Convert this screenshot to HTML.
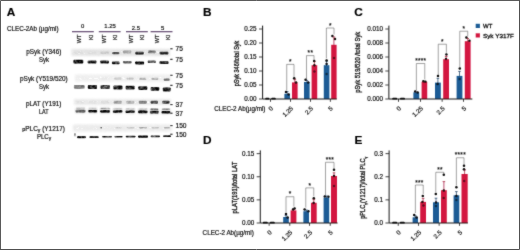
<!DOCTYPE html>
<html lang="en"><head><meta charset="utf-8"><title>Figure</title>
<style>html,body{margin:0;padding:0;background:#fff;}body{width:520px;height:250px;overflow:hidden;}svg{display:block;}text{white-space:pre;stroke:#151515;stroke-width:.2px;}</style></head>
<body>
<svg width="520" height="250" viewBox="0 0 520 250" font-family='"Liberation Sans", sans-serif'>
<defs><filter id="b1" x="-20%" y="-60%" width="140%" height="220%"><feGaussianBlur stdDeviation="0.75 0.55"/></filter><filter id="b2" x="-5%" y="-30%" width="110%" height="160%"><feGaussianBlur stdDeviation="0.8"/></filter><filter id="b3" x="-20%" y="-100%" width="140%" height="300%"><feGaussianBlur stdDeviation="0.55 0.4"/></filter><filter id="mot" color-interpolation-filters="sRGB" x="68" y="44" width="108" height="100" filterUnits="userSpaceOnUse"><feTurbulence type="fractalNoise" baseFrequency="0.32 0.5" numOctaves="2" seed="7"/><feColorMatrix type="matrix" values="0 0 0 0 1 0 0 0 0 1 0 0 0 0 1 0 0 0 1 0" result="n"/><feComposite in="SourceGraphic" in2="n" operator="arithmetic" k1="1.1" k2="0.42" k3="0" k4="0"/></filter><filter id="mot2" color-interpolation-filters="sRGB" x="68" y="44" width="108" height="100" filterUnits="userSpaceOnUse"><feTurbulence type="fractalNoise" baseFrequency="0.4 0.6" numOctaves="2" seed="3"/><feColorMatrix type="matrix" values="0 0 0 0 1 0 0 0 0 1 0 0 0 0 1 0 0 0 1 0" result="n"/><feComposite in="SourceGraphic" in2="n" operator="arithmetic" k1="0.5" k2="0.72" k3="0" k4="0"/></filter><filter id="soft" x="0" y="0" width="520" height="250" filterUnits="userSpaceOnUse"><feConvolveMatrix order="3" kernelMatrix="0.02 0.07 0.02 0.07 0.64 0.07 0.02 0.07 0.02" edgeMode="duplicate" preserveAlpha="false"/></filter></defs>
<rect x="0" y="0" width="520" height="250" fill="#fff"/>
<g filter="url(#soft)">
<text x="6.8" y="16.2" font-size="11.8" font-weight="bold" fill="#000">A</text>
<text x="6.9" y="30.7" font-size="6.4" textLength="51.6" lengthAdjust="spacingAndGlyphs" fill="#1a1a1a">CLEC-2Ab (µg/ml)</text>
<rect x="72" y="31.0" width="21.8" height="1.3" fill="#6e587c"/>
<text x="82.60000000000001" y="28.1" font-size="5.9" text-anchor="middle" fill="#1a1a1a">0</text>
<rect x="98.8" y="31.0" width="21.8" height="1.3" fill="#6e587c"/>
<text x="110.1" y="28.1" font-size="5.9" text-anchor="middle" fill="#1a1a1a">1.25</text>
<rect x="126" y="31.0" width="21.8" height="1.3" fill="#6e587c"/>
<text x="135.9" y="29.5" font-size="5.9" text-anchor="middle" fill="#1a1a1a">2.5</text>
<rect x="150.6" y="31.0" width="21.9" height="1.3" fill="#6e587c"/>
<text x="162.55" y="29.5" font-size="5.9" text-anchor="middle" fill="#1a1a1a">5</text>
<text x="81.5" y="34.6" font-size="5.6" text-anchor="end" transform="rotate(-90 81.5 34.6)" fill="#1a1a1a">WT</text>
<text x="93" y="34.6" font-size="5.6" text-anchor="end" transform="rotate(-90 93 34.6)" fill="#1a1a1a">KI</text>
<text x="106.2" y="34.6" font-size="5.6" text-anchor="end" transform="rotate(-90 106.2 34.6)" fill="#1a1a1a">WT</text>
<text x="117.4" y="34.6" font-size="5.6" text-anchor="end" transform="rotate(-90 117.4 34.6)" fill="#1a1a1a">KI</text>
<text x="132.6" y="34.6" font-size="5.6" text-anchor="end" transform="rotate(-90 132.6 34.6)" fill="#1a1a1a">WT</text>
<text x="143.6" y="34.6" font-size="5.6" text-anchor="end" transform="rotate(-90 143.6 34.6)" fill="#1a1a1a">KI</text>
<text x="158.9" y="34.6" font-size="5.6" text-anchor="end" transform="rotate(-90 158.9 34.6)" fill="#1a1a1a">WT</text>
<text x="169.9" y="34.6" font-size="5.6" text-anchor="end" transform="rotate(-90 169.9 34.6)" fill="#1a1a1a">KI</text>
<text x="26.299999999999997" y="54.0" font-size="6.3" textLength="35" lengthAdjust="spacingAndGlyphs" fill="#1a1a1a">pSyk (Y346)</text>
<text x="39.0" y="61.5" font-size="6.3" textLength="10" lengthAdjust="spacingAndGlyphs" fill="#1a1a1a">Syk</text>
<text x="20.049999999999997" y="81.1" font-size="6.3" textLength="47.7" lengthAdjust="spacingAndGlyphs" fill="#1a1a1a">pSyk (Y519/520)</text>
<text x="39.0" y="88.6" font-size="6.3" textLength="10" lengthAdjust="spacingAndGlyphs" fill="#1a1a1a">Syk</text>
<text x="26.1" y="106.4" font-size="6.3" textLength="35.2" lengthAdjust="spacingAndGlyphs" fill="#1a1a1a">pLAT (Y191)</text>
<text x="39.0" y="114.2" font-size="6.3" textLength="9.6" lengthAdjust="spacingAndGlyphs" fill="#1a1a1a">LAT</text>
<text x="22.3" y="131.2" font-size="6.3" textLength="42.7" lengthAdjust="spacingAndGlyphs" fill="#1a1a1a"><tspan font-size="5.4">p</tspan>PLC<tspan font-size="5" dy="0.9">γ</tspan><tspan dy="-0.9"> (Y1217)</tspan></text>
<text x="36.9" y="139" font-size="6.3" textLength="14.3" lengthAdjust="spacingAndGlyphs" fill="#1a1a1a">PLC<tspan font-size="5" dy="0.9">γ</tspan></text>
<g filter="url(#mot2)">
<rect x="71.5" y="49.0" width="98.5" height="7.0" fill="#e3e3e3" filter="url(#b2)"/>
<rect x="75" y="74.6" width="96" height="7.0" fill="#eeeeee" filter="url(#b2)"/>
<rect x="74" y="99.0" width="97" height="6.0" fill="#e8e8e8" filter="url(#b2)"/>
<rect x="73" y="124.6" width="98.5" height="6.800000000000011" fill="#eaeaea" filter="url(#b2)"/>
</g>
<g filter="url(#mot)">
<rect x="73.60" y="51.50" width="9.50" height="2.50" rx="1" fill="#000" opacity="0.03" filter="url(#b1)"/>
<rect x="87.80" y="51.50" width="8.50" height="2.50" rx="1" fill="#000" opacity="0.03" filter="url(#b1)"/>
<rect x="100.30" y="51.60" width="8.50" height="2.40" rx="1" fill="#000" opacity="0.12" filter="url(#b1)"/>
<rect x="112.10" y="51.90" width="7.30" height="2.30" rx="1" fill="#000" opacity="0.72" filter="url(#b1)"/>
<rect x="123.10" y="50.40" width="8.30" height="3.10" rx="1" fill="#000" opacity="0.3" filter="url(#b1)"/>
<rect x="135.30" y="51.70" width="8.60" height="2.90" rx="1" fill="#000" opacity="0.97" filter="url(#b1)"/>
<rect x="147.90" y="50.40" width="7.80" height="2.90" rx="1" fill="#000" opacity="0.55" filter="url(#b1)"/>
<rect x="159.60" y="51.70" width="8.80" height="2.90" rx="1" fill="#000" opacity="0.98" filter="url(#b1)"/>
<rect x="73.40" y="59.80" width="9.90" height="3.60" rx="1" fill="#000" opacity="0.97" filter="url(#b1)"/>
<rect x="87.60" y="60.60" width="8.90" height="3.00" rx="1" fill="#000" opacity="0.86" filter="url(#b1)"/>
<rect x="100.10" y="60.60" width="8.90" height="3.00" rx="1" fill="#000" opacity="0.86" filter="url(#b1)"/>
<rect x="111.90" y="61.40" width="7.70" height="2.80" rx="1" fill="#000" opacity="0.9" filter="url(#b1)"/>
<rect x="122.90" y="60.90" width="8.70" height="2.50" rx="1" fill="#000" opacity="0.6" filter="url(#b1)"/>
<rect x="135.10" y="61.40" width="9.00" height="3.00" rx="1" fill="#000" opacity="0.92" filter="url(#b1)"/>
<rect x="147.70" y="60.60" width="8.20" height="2.40" rx="1" fill="#000" opacity="0.66" filter="url(#b1)"/>
<rect x="159.40" y="61.20" width="9.20" height="2.80" rx="1" fill="#000" opacity="0.9" filter="url(#b1)"/>
<rect x="101.40" y="77.30" width="7.60" height="2.30" rx="1" fill="#000" opacity="0.03" filter="url(#b1)"/>
<rect x="114.20" y="77.40" width="7.40" height="2.30" rx="1" fill="#000" opacity="0.16" filter="url(#b1)"/>
<rect x="126.50" y="77.40" width="7.30" height="2.30" rx="1" fill="#000" opacity="0.16" filter="url(#b1)"/>
<rect x="139.20" y="77.80" width="7.20" height="2.30" rx="1" fill="#000" opacity="0.26" filter="url(#b1)"/>
<rect x="151.50" y="77.80" width="6.90" height="2.30" rx="1" fill="#000" opacity="0.26" filter="url(#b1)"/>
<rect x="163.70" y="78.50" width="6.10" height="2.30" rx="1" fill="#000" opacity="0.55" filter="url(#b1)"/>
<rect x="73.90" y="84.90" width="10.80" height="3.80" rx="1" fill="#000" opacity="0.5" filter="url(#b1)"/>
<rect x="87.80" y="85.10" width="9.20" height="3.90" rx="1" fill="#000" opacity="0.85" filter="url(#b1)"/>
<rect x="100.50" y="85.10" width="9.40" height="3.90" rx="1" fill="#000" opacity="0.72" filter="url(#b1)"/>
<rect x="113.30" y="85.50" width="9.20" height="3.90" rx="1" fill="#000" opacity="0.88" filter="url(#b1)"/>
<rect x="125.60" y="85.70" width="9.10" height="3.80" rx="1" fill="#000" opacity="0.88" filter="url(#b1)"/>
<rect x="138.30" y="86.30" width="9.00" height="3.80" rx="1" fill="#000" opacity="0.85" filter="url(#b1)"/>
<rect x="150.60" y="86.90" width="8.70" height="3.80" rx="1" fill="#000" opacity="0.88" filter="url(#b1)"/>
<rect x="162.80" y="87.50" width="7.90" height="3.90" rx="1" fill="#000" opacity="0.9" filter="url(#b1)"/>
<rect x="76.20" y="100.80" width="8.60" height="3.00" rx="1" fill="#000" opacity="0.03" filter="url(#b1)"/>
<rect x="89.00" y="100.80" width="7.50" height="3.00" rx="1" fill="#000" opacity="0.03" filter="url(#b1)"/>
<rect x="100.80" y="100.80" width="8.50" height="3.00" rx="1" fill="#000" opacity="0.05" filter="url(#b1)"/>
<rect x="113.60" y="100.80" width="8.20" height="3.00" rx="1" fill="#000" opacity="0.32" filter="url(#b1)"/>
<rect x="126.20" y="100.80" width="8.00" height="3.00" rx="1" fill="#000" opacity="0.26" filter="url(#b1)"/>
<rect x="138.80" y="100.80" width="8.00" height="3.00" rx="1" fill="#000" opacity="0.5" filter="url(#b1)"/>
<rect x="150.60" y="100.80" width="7.40" height="3.00" rx="1" fill="#000" opacity="0.75" filter="url(#b1)"/>
<rect x="162.20" y="100.80" width="7.40" height="3.00" rx="1" fill="#000" opacity="0.8" filter="url(#b1)"/>
<rect x="75.20" y="107.40" width="10.60" height="5.80" rx="1" fill="#000" opacity="0.13" filter="url(#b2)"/>
<rect x="75.50" y="109.80" width="10.00" height="2.60" rx="1" fill="#000" opacity="0.6" filter="url(#b1)"/>
<rect x="75.80" y="107.50" width="9.40" height="1.40" rx="1" fill="#000" opacity="0.18" filter="url(#b1)"/>
<rect x="88.00" y="107.50" width="9.50" height="5.80" rx="1" fill="#000" opacity="0.13" filter="url(#b2)"/>
<rect x="88.30" y="109.90" width="8.90" height="2.60" rx="1" fill="#000" opacity="0.95" filter="url(#b1)"/>
<rect x="88.60" y="107.60" width="8.30" height="1.40" rx="1" fill="#000" opacity="0.1" filter="url(#b1)"/>
<rect x="99.80" y="107.60" width="10.50" height="5.80" rx="1" fill="#000" opacity="0.13" filter="url(#b2)"/>
<rect x="100.10" y="110.00" width="9.90" height="2.60" rx="1" fill="#000" opacity="0.97" filter="url(#b1)"/>
<rect x="100.40" y="107.70" width="9.30" height="1.40" rx="1" fill="#000" opacity="0.3" filter="url(#b1)"/>
<rect x="112.60" y="107.80" width="10.20" height="5.80" rx="1" fill="#000" opacity="0.13" filter="url(#b2)"/>
<rect x="112.90" y="110.20" width="9.60" height="2.60" rx="1" fill="#000" opacity="0.95" filter="url(#b1)"/>
<rect x="113.20" y="107.90" width="9.00" height="1.40" rx="1" fill="#000" opacity="0.12" filter="url(#b1)"/>
<rect x="125.20" y="108.00" width="10.00" height="5.80" rx="1" fill="#000" opacity="0.13" filter="url(#b2)"/>
<rect x="125.50" y="110.40" width="9.40" height="2.60" rx="1" fill="#000" opacity="0.9" filter="url(#b1)"/>
<rect x="125.80" y="108.10" width="8.80" height="1.40" rx="1" fill="#000" opacity="0.1" filter="url(#b1)"/>
<rect x="137.80" y="108.20" width="10.00" height="5.80" rx="1" fill="#000" opacity="0.13" filter="url(#b2)"/>
<rect x="138.10" y="110.60" width="9.40" height="2.60" rx="1" fill="#000" opacity="0.95" filter="url(#b1)"/>
<rect x="138.40" y="108.30" width="8.80" height="1.40" rx="1" fill="#000" opacity="0.12" filter="url(#b1)"/>
<rect x="149.60" y="108.40" width="9.40" height="5.80" rx="1" fill="#000" opacity="0.13" filter="url(#b2)"/>
<rect x="149.90" y="110.80" width="8.80" height="2.60" rx="1" fill="#000" opacity="0.95" filter="url(#b1)"/>
<rect x="150.20" y="108.50" width="8.20" height="1.40" rx="1" fill="#000" opacity="0.5" filter="url(#b1)"/>
<rect x="161.20" y="108.50" width="9.40" height="5.80" rx="1" fill="#000" opacity="0.13" filter="url(#b2)"/>
<rect x="161.50" y="110.90" width="8.80" height="2.60" rx="1" fill="#000" opacity="0.97" filter="url(#b1)"/>
<rect x="161.80" y="108.60" width="8.20" height="1.40" rx="1" fill="#000" opacity="0.35" filter="url(#b1)"/>
<rect x="115.40" y="127.00" width="6.20" height="1.60" rx="1" fill="#000" opacity="0.14" filter="url(#b1)"/>
<rect x="126.60" y="127.00" width="8.00" height="1.60" rx="1" fill="#000" opacity="0.16" filter="url(#b1)"/>
<rect x="139.00" y="127.00" width="8.00" height="1.60" rx="1" fill="#000" opacity="0.3" filter="url(#b1)"/>
<rect x="151.60" y="127.00" width="7.40" height="1.60" rx="1" fill="#000" opacity="0.2" filter="url(#b1)"/>
<rect x="164.00" y="127.00" width="6.00" height="1.60" rx="1" fill="#000" opacity="0.28" filter="url(#b1)"/>
<circle cx="101.2" cy="127.8" r="0.8" fill="#222" filter="url(#b3)"/>
<rect x="77.00" y="136.20" width="9.00" height="2.00" rx="1" fill="#000" opacity="0.95" filter="url(#b3)"/>
<rect x="89.40" y="136.20" width="9.40" height="1.80" rx="1" fill="#000" opacity="0.9" filter="url(#b3)"/>
<rect x="102.00" y="136.00" width="10.00" height="1.60" rx="1" fill="#000" opacity="0.85" filter="url(#b3)"/>
<rect x="114.40" y="136.00" width="8.20" height="1.60" rx="1" fill="#000" opacity="0.9" filter="url(#b3)"/>
<rect x="125.60" y="135.80" width="10.00" height="1.60" rx="1" fill="#000" opacity="0.85" filter="url(#b3)"/>
<rect x="138.00" y="135.40" width="10.00" height="2.40" rx="1" fill="#000" opacity="1" filter="url(#b3)"/>
<rect x="150.60" y="135.40" width="9.40" height="1.80" rx="1" fill="#000" opacity="0.9" filter="url(#b3)"/>
<rect x="163.00" y="135.30" width="8.00" height="1.80" rx="1" fill="#000" opacity="0.85" filter="url(#b3)"/>
<rect x="74.6" y="133" width="0.8" height="3.2" fill="#222" filter="url(#b3)"/>
</g>
<rect x="170.2" y="48.25" width="2.4" height="1.1" fill="#222"/>
<text x="175.5" y="51.15" font-size="6.6" fill="#1a1a1a">75</text>
<rect x="170.2" y="58.75" width="2.4" height="1.1" fill="#222"/>
<text x="175.5" y="61.65" font-size="6.6" fill="#1a1a1a">75</text>
<rect x="170.2" y="74.75" width="2.4" height="1.1" fill="#222"/>
<text x="175.5" y="77.64999999999999" font-size="6.6" fill="#1a1a1a">75</text>
<rect x="170.2" y="84.75" width="2.4" height="1.1" fill="#222"/>
<text x="175.5" y="87.64999999999999" font-size="6.6" fill="#1a1a1a">75</text>
<rect x="170.2" y="104.05" width="2.4" height="1.1" fill="#222"/>
<text x="175.5" y="106.94999999999999" font-size="6.6" fill="#1a1a1a">37</text>
<rect x="170.2" y="112.65" width="2.4" height="1.1" fill="#222"/>
<text x="175.5" y="115.55" font-size="6.6" fill="#1a1a1a">37</text>
<rect x="170.2" y="125.05" width="2.4" height="1.1" fill="#222"/>
<text x="175.5" y="127.94999999999999" font-size="6.6" fill="#1a1a1a">150</text>
<rect x="170.2" y="133.65" width="2.4" height="1.1" fill="#222"/>
<text x="175.5" y="136.54999999999998" font-size="6.6" fill="#1a1a1a">150</text>
<text x="203" y="16.2" font-size="11.8" font-weight="bold" fill="#000">B</text>
<rect x="284.40" y="93.80" width="5.60" height="5.20" fill="#1a5b95"/>
<rect x="292.00" y="82.40" width="5.60" height="16.60" fill="#d3173f"/>
<rect x="304.00" y="82.00" width="5.60" height="17.00" fill="#1a5b95"/>
<rect x="311.60" y="65.20" width="5.60" height="33.80" fill="#d3173f"/>
<rect x="323.80" y="65.20" width="5.60" height="33.80" fill="#1a5b95"/>
<rect x="331.20" y="44.80" width="5.40" height="54.20" fill="#d3173f"/>
<path d="M287.2 91.6V94M285.9 91.6H288.5" stroke="#12385c" stroke-width="0.7" fill="none"/>
<path d="M294.8 79.6V83M293.5 79.6H296.1" stroke="#a0102e" stroke-width="0.7" fill="none"/>
<path d="M306.8 80.4V82.4M305.5 80.4H308.1" stroke="#12385c" stroke-width="0.7" fill="none"/>
<path d="M314.4 61.5V66M313.09999999999997 61.5H315.7" stroke="#a0102e" stroke-width="0.7" fill="none"/>
<path d="M326.6 61V66M325.3 61H327.90000000000003" stroke="#12385c" stroke-width="0.7" fill="none"/>
<path d="M333.9 37V45.4M332.59999999999997 37H335.2" stroke="#a0102e" stroke-width="0.7" fill="none"/>
<path d="M286.7 90.5V64.4H294V77.2" stroke="#2a2a2a" stroke-width="0.42" fill="none"/>
<text x="290.5" y="64.0" font-size="6.4" text-anchor="middle" fill="#111" letter-spacing="0.3">*</text>
<path d="M306.5 79V55.6H314V60.2" stroke="#2a2a2a" stroke-width="0.42" fill="none"/>
<text x="310.4" y="55.2" font-size="6.4" text-anchor="middle" fill="#111" letter-spacing="0.3">**</text>
<path d="M326.4 58.4V28H334V34.4" stroke="#2a2a2a" stroke-width="0.42" fill="none"/>
<text x="330.34999999999997" y="27.6" font-size="6.4" text-anchor="middle" fill="#111" letter-spacing="0.3">*</text>
<circle cx="286" cy="92" r="1.25" fill="#0a0a0a"/>
<circle cx="288.6" cy="94.6" r="1.25" fill="#0a0a0a"/>
<circle cx="294.2" cy="78.2" r="1.25" fill="#0a0a0a"/>
<circle cx="296" cy="82.6" r="1.25" fill="#0a0a0a"/>
<circle cx="305.6" cy="79.8" r="1.25" fill="#0a0a0a"/>
<circle cx="308.2" cy="82.6" r="1.25" fill="#0a0a0a"/>
<circle cx="314.2" cy="61" r="1.25" fill="#0a0a0a"/>
<circle cx="314.4" cy="65.2" r="1.25" fill="#0a0a0a"/>
<circle cx="314.4" cy="71.6" r="1.25" fill="#0a0a0a" opacity="0.6"/>
<circle cx="326.6" cy="60.4" r="1.25" fill="#0a0a0a"/>
<circle cx="326.6" cy="64" r="1.25" fill="#0a0a0a"/>
<circle cx="326.6" cy="74" r="1.25" fill="#0a0a0a" opacity="0.6"/>
<circle cx="332.4" cy="36" r="1.25" fill="#0a0a0a"/>
<circle cx="335" cy="39" r="1.25" fill="#0a0a0a"/>
<circle cx="334" cy="58" r="1.25" fill="#0a0a0a" opacity="0.6"/>
<path d="M262.6 25.6V99.0H336.8" stroke="#1a1a1a" stroke-width="1" fill="none"/>
<rect x="259.0" y="98.6" width="3.6" height="0.8" fill="#1a1a1a"/>
<text x="256.6" y="101.25" font-size="6.3" text-anchor="end" fill="#1a1a1a">0.00</text>
<rect x="259.0" y="84.6" width="3.6" height="0.8" fill="#1a1a1a"/>
<text x="256.6" y="87.25" font-size="6.3" text-anchor="end" fill="#1a1a1a">0.05</text>
<rect x="259.0" y="70.6" width="3.6" height="0.8" fill="#1a1a1a"/>
<text x="256.6" y="73.25" font-size="6.3" text-anchor="end" fill="#1a1a1a">0.10</text>
<rect x="259.0" y="56.6" width="3.6" height="0.8" fill="#1a1a1a"/>
<text x="256.6" y="59.25" font-size="6.3" text-anchor="end" fill="#1a1a1a">0.15</text>
<rect x="259.0" y="42.6" width="3.6" height="0.8" fill="#1a1a1a"/>
<text x="256.6" y="45.25" font-size="6.3" text-anchor="end" fill="#1a1a1a">0.20</text>
<rect x="259.0" y="28.6" width="3.6" height="0.8" fill="#1a1a1a"/>
<text x="256.6" y="31.25" font-size="6.3" text-anchor="end" fill="#1a1a1a">0.25</text>
<rect x="270.1" y="99.0" width="0.8" height="2.8" fill="#1a1a1a"/>
<text x="273.5" y="108.8" font-size="6.2" text-anchor="end" transform="rotate(-45 273.5 108.8)" fill="#1a1a1a">0</text>
<rect x="290.1" y="99.0" width="0.8" height="2.8" fill="#1a1a1a"/>
<text x="293.5" y="108.8" font-size="6.2" text-anchor="end" transform="rotate(-45 293.5 108.8)" fill="#1a1a1a">1.25</text>
<rect x="310.1" y="99.0" width="0.8" height="2.8" fill="#1a1a1a"/>
<text x="313.5" y="108.8" font-size="6.2" text-anchor="end" transform="rotate(-45 313.5 108.8)" fill="#1a1a1a">2.5</text>
<rect x="329.90000000000003" y="99.0" width="0.8" height="2.8" fill="#1a1a1a"/>
<text x="333.3" y="108.8" font-size="6.2" text-anchor="end" transform="rotate(-45 333.3 108.8)" fill="#1a1a1a">5</text>
<text x="239.2" y="86.2" font-size="7" transform="rotate(-90 239.2 86.2)" textLength="45.5" lengthAdjust="spacingAndGlyphs" fill="#1a1a1a" style="stroke-width:.32px">pSyk 346/total Syk</text>
<text x="214.2" y="111.2" font-size="6.4" textLength="51.2" lengthAdjust="spacingAndGlyphs" fill="#1a1a1a">CLEC-2 Ab(µg/ml)</text>
<rect x="265.20" y="97.80" width="4.20" height="1.8" rx="0.9" fill="#0a0a0a"/>
<rect x="271.20" y="97.80" width="4.60" height="1.8" rx="0.9" fill="#0a0a0a"/>
<text x="354.2" y="16.2" font-size="11.8" font-weight="bold" fill="#000">C</text>
<rect x="413.40" y="92.30" width="5.80" height="6.70" fill="#1a5b95"/>
<rect x="421.60" y="81.80" width="5.60" height="17.20" fill="#d3173f"/>
<rect x="435.00" y="82.60" width="5.80" height="16.40" fill="#1a5b95"/>
<rect x="443.20" y="59.20" width="5.80" height="39.80" fill="#d3173f"/>
<rect x="456.60" y="75.90" width="5.80" height="23.10" fill="#1a5b95"/>
<rect x="464.80" y="41.20" width="5.80" height="57.80" fill="#d3173f"/>
<path d="M437.9 78.4V83M436.59999999999997 78.4H439.2" stroke="#12385c" stroke-width="0.7" fill="none"/>
<path d="M446.2 56.5V59.6M444.9 56.5H447.5" stroke="#a0102e" stroke-width="0.7" fill="none"/>
<path d="M459.5 71.4V76.4M458.2 71.4H460.8" stroke="#12385c" stroke-width="0.7" fill="none"/>
<path d="M467.7 38.5V42M466.4 38.5H469.0" stroke="#a0102e" stroke-width="0.7" fill="none"/>
<path d="M416.4 90.6V63.5H424.8V79.4" stroke="#2a2a2a" stroke-width="0.42" fill="none"/>
<text x="420.75" y="63.1" font-size="6.4" text-anchor="middle" fill="#111" letter-spacing="0.3">****</text>
<path d="M438.3 75V44.2H446.4V52.8" stroke="#2a2a2a" stroke-width="0.42" fill="none"/>
<text x="442.5" y="43.800000000000004" font-size="6.4" text-anchor="middle" fill="#111" letter-spacing="0.3">*</text>
<path d="M459.8 67.4V31.2H467.7V36.2" stroke="#2a2a2a" stroke-width="0.42" fill="none"/>
<text x="463.9" y="30.8" font-size="6.4" text-anchor="middle" fill="#111" letter-spacing="0.3">*</text>
<circle cx="415.2" cy="91.6" r="1.25" fill="#0a0a0a"/>
<circle cx="417.6" cy="92.4" r="1.25" fill="#0a0a0a"/>
<circle cx="423.4" cy="81.2" r="1.25" fill="#0a0a0a"/>
<circle cx="425.4" cy="81.8" r="1.25" fill="#0a0a0a"/>
<circle cx="438" cy="76" r="1.25" fill="#0a0a0a"/>
<circle cx="437.6" cy="84" r="1.25" fill="#0a0a0a"/>
<circle cx="446.4" cy="54.4" r="1.25" fill="#0a0a0a"/>
<circle cx="446" cy="59" r="1.25" fill="#0a0a0a"/>
<circle cx="459.8" cy="68.4" r="1.25" fill="#0a0a0a"/>
<circle cx="459.6" cy="79" r="1.25" fill="#0a0a0a" opacity="0.6"/>
<circle cx="466.4" cy="37.4" r="1.25" fill="#0a0a0a"/>
<circle cx="469.4" cy="40.8" r="1.25" fill="#0a0a0a"/>
<path d="M388.9 25.6V99.0H472.4" stroke="#1a1a1a" stroke-width="1" fill="none"/>
<rect x="385.29999999999995" y="98.6" width="3.6" height="0.8" fill="#1a1a1a"/>
<text x="382.9" y="101.25" font-size="6.3" text-anchor="end" fill="#1a1a1a">0.000</text>
<rect x="385.29999999999995" y="84.6" width="3.6" height="0.8" fill="#1a1a1a"/>
<text x="382.9" y="87.25" font-size="6.3" text-anchor="end" fill="#1a1a1a">0.002</text>
<rect x="385.29999999999995" y="70.6" width="3.6" height="0.8" fill="#1a1a1a"/>
<text x="382.9" y="73.25" font-size="6.3" text-anchor="end" fill="#1a1a1a">0.004</text>
<rect x="385.29999999999995" y="56.6" width="3.6" height="0.8" fill="#1a1a1a"/>
<text x="382.9" y="59.25" font-size="6.3" text-anchor="end" fill="#1a1a1a">0.006</text>
<rect x="385.29999999999995" y="42.6" width="3.6" height="0.8" fill="#1a1a1a"/>
<text x="382.9" y="45.25" font-size="6.3" text-anchor="end" fill="#1a1a1a">0.008</text>
<rect x="385.29999999999995" y="28.6" width="3.6" height="0.8" fill="#1a1a1a"/>
<text x="382.9" y="31.25" font-size="6.3" text-anchor="end" fill="#1a1a1a">0.010</text>
<rect x="398.0" y="99.0" width="0.8" height="2.8" fill="#1a1a1a"/>
<text x="401.4" y="108.8" font-size="6.2" text-anchor="end" transform="rotate(-45 401.4 108.8)" fill="#1a1a1a">0</text>
<rect x="420.0" y="99.0" width="0.8" height="2.8" fill="#1a1a1a"/>
<text x="423.4" y="108.8" font-size="6.2" text-anchor="end" transform="rotate(-45 423.4 108.8)" fill="#1a1a1a">1.25</text>
<rect x="441.70000000000005" y="99.0" width="0.8" height="2.8" fill="#1a1a1a"/>
<text x="445.1" y="108.8" font-size="6.2" text-anchor="end" transform="rotate(-45 445.1 108.8)" fill="#1a1a1a">2.5</text>
<rect x="463.20000000000005" y="99.0" width="0.8" height="2.8" fill="#1a1a1a"/>
<text x="466.6" y="108.8" font-size="6.2" text-anchor="end" transform="rotate(-45 466.6 108.8)" fill="#1a1a1a">5</text>
<text x="359.6" y="92.8" font-size="7" transform="rotate(-90 359.6 92.8)" textLength="61" lengthAdjust="spacingAndGlyphs" fill="#1a1a1a" style="stroke-width:.32px">pSyk 519/520 /total Syk</text>
<rect x="392.20" y="97.80" width="5.00" height="1.8" rx="0.9" fill="#0a0a0a"/>
<rect x="400.00" y="97.80" width="5.00" height="1.8" rx="0.9" fill="#0a0a0a"/>
<rect x="475.7" y="23.8" width="4.2" height="4.2" fill="#1a5b95"/>
<rect x="475.7" y="33.3" width="4.2" height="4.2" fill="#d3173f"/>
<text x="483" y="28.0" font-size="6" fill="#1a1a1a" style="stroke-width:.3px">WT</text>
<text x="483" y="37.5" font-size="6" textLength="30.8" lengthAdjust="spacingAndGlyphs" fill="#1a1a1a" style="stroke-width:.3px">Syk Y317F</text>
<text x="203" y="144.2" font-size="11.8" font-weight="bold" fill="#000">D</text>
<rect x="283.20" y="217.00" width="5.60" height="6.00" fill="#1a5b95"/>
<rect x="290.60" y="210.40" width="5.80" height="12.60" fill="#d3173f"/>
<rect x="303.40" y="211.20" width="5.60" height="11.80" fill="#1a5b95"/>
<rect x="311.00" y="202.80" width="5.70" height="20.20" fill="#d3173f"/>
<rect x="323.60" y="197.60" width="5.60" height="25.40" fill="#1a5b95"/>
<rect x="331.00" y="176.00" width="6.00" height="47.00" fill="#d3173f"/>
<path d="M286 215.4V217.4M284.7 215.4H287.3" stroke="#12385c" stroke-width="0.7" fill="none"/>
<path d="M293.6 209.2V211M292.3 209.2H294.90000000000003" stroke="#a0102e" stroke-width="0.7" fill="none"/>
<path d="M306.4 210V212M305.09999999999997 210H307.7" stroke="#12385c" stroke-width="0.7" fill="none"/>
<path d="M313.8 199.6V203.4M312.5 199.6H315.1" stroke="#a0102e" stroke-width="0.7" fill="none"/>
<path d="M326.4 196V198.4M325.09999999999997 196H327.7" stroke="#12385c" stroke-width="0.7" fill="none"/>
<path d="M334 172.8V176.6M332.7 172.8H335.3" stroke="#a0102e" stroke-width="0.7" fill="none"/>
<path d="M286 212.4V196.7H293.9V206.6" stroke="#2a2a2a" stroke-width="0.42" fill="none"/>
<text x="290.09999999999997" y="196.29999999999998" font-size="6.4" text-anchor="middle" fill="#111" letter-spacing="0.3">*</text>
<path d="M305.8 207.6V187.9H313.8V196.4" stroke="#2a2a2a" stroke-width="0.42" fill="none"/>
<text x="309.95" y="187.5" font-size="6.4" text-anchor="middle" fill="#111" letter-spacing="0.3">*</text>
<path d="M325.5 195V162.3H334V168.4" stroke="#2a2a2a" stroke-width="0.42" fill="none"/>
<text x="329.9" y="161.9" font-size="6.4" text-anchor="middle" fill="#111" letter-spacing="0.3">***</text>
<circle cx="286" cy="214" r="1.25" fill="#0a0a0a"/>
<circle cx="287.6" cy="217.6" r="1.25" fill="#0a0a0a"/>
<circle cx="293" cy="209.6" r="1.25" fill="#0a0a0a"/>
<circle cx="294.6" cy="208.6" r="1.25" fill="#0a0a0a"/>
<circle cx="304.6" cy="209.4" r="1.25" fill="#0a0a0a"/>
<circle cx="308.4" cy="211.2" r="1.25" fill="#0a0a0a"/>
<circle cx="313.8" cy="198.2" r="1.25" fill="#0a0a0a"/>
<circle cx="313.6" cy="203" r="1.25" fill="#0a0a0a"/>
<circle cx="324.8" cy="196.6" r="1.25" fill="#0a0a0a"/>
<circle cx="328.4" cy="196.8" r="1.25" fill="#0a0a0a"/>
<circle cx="334" cy="169.8" r="1.25" fill="#0a0a0a"/>
<circle cx="334" cy="176" r="1.25" fill="#0a0a0a"/>
<circle cx="334" cy="186" r="1.25" fill="#0a0a0a" opacity="0.6"/>
<path d="M260.3 150.4V223.0H337.6" stroke="#1a1a1a" stroke-width="1" fill="none"/>
<rect x="256.7" y="222.6" width="3.6" height="0.8" fill="#1a1a1a"/>
<text x="254.3" y="225.25" font-size="6.3" text-anchor="end" fill="#1a1a1a">0.00</text>
<rect x="256.7" y="199.5" width="3.6" height="0.8" fill="#1a1a1a"/>
<text x="254.3" y="202.15" font-size="6.3" text-anchor="end" fill="#1a1a1a">0.05</text>
<rect x="256.7" y="176.4" width="3.6" height="0.8" fill="#1a1a1a"/>
<text x="254.3" y="179.05" font-size="6.3" text-anchor="end" fill="#1a1a1a">0.10</text>
<rect x="256.7" y="153.29999999999998" width="3.6" height="0.8" fill="#1a1a1a"/>
<text x="254.3" y="155.95" font-size="6.3" text-anchor="end" fill="#1a1a1a">0.15</text>
<rect x="268.70000000000005" y="223.0" width="0.8" height="2.8" fill="#1a1a1a"/>
<text x="272.1" y="232.8" font-size="6.2" text-anchor="end" transform="rotate(-45 272.1 232.8)" fill="#1a1a1a">0</text>
<rect x="289.40000000000003" y="223.0" width="0.8" height="2.8" fill="#1a1a1a"/>
<text x="292.8" y="232.8" font-size="6.2" text-anchor="end" transform="rotate(-45 292.8 232.8)" fill="#1a1a1a">1.25</text>
<rect x="309.20000000000005" y="223.0" width="0.8" height="2.8" fill="#1a1a1a"/>
<text x="312.6" y="232.8" font-size="6.2" text-anchor="end" transform="rotate(-45 312.6 232.8)" fill="#1a1a1a">2.5</text>
<rect x="329.8" y="223.0" width="0.8" height="2.8" fill="#1a1a1a"/>
<text x="333.2" y="232.8" font-size="6.2" text-anchor="end" transform="rotate(-45 333.2 232.8)" fill="#1a1a1a">5</text>
<text x="237.2" y="213.6" font-size="7" transform="rotate(-90 237.2 213.6)" textLength="52" lengthAdjust="spacingAndGlyphs" fill="#1a1a1a" style="stroke-width:.32px">pLAT(191)/total LAT</text>
<text x="202.6" y="235.4" font-size="6.4" textLength="51.2" lengthAdjust="spacingAndGlyphs" fill="#1a1a1a">CLEC-2 Ab(µg/ml)</text>
<rect x="262.80" y="221.80" width="5.00" height="1.8" rx="0.9" fill="#0a0a0a"/>
<rect x="269.80" y="221.80" width="5.00" height="1.8" rx="0.9" fill="#0a0a0a"/>
<text x="354.4" y="144.2" font-size="11.8" font-weight="bold" fill="#000">E</text>
<rect x="412.60" y="217.30" width="5.40" height="5.70" fill="#1a5b95"/>
<rect x="420.20" y="201.90" width="5.80" height="21.10" fill="#d3173f"/>
<rect x="433.00" y="202.30" width="6.00" height="20.70" fill="#1a5b95"/>
<rect x="441.00" y="190.20" width="5.80" height="32.80" fill="#d3173f"/>
<rect x="453.60" y="195.30" width="5.70" height="27.70" fill="#1a5b95"/>
<rect x="461.50" y="174.00" width="6.20" height="49.00" fill="#d3173f"/>
<path d="M415.3 215.8V217.8M414.0 215.8H416.6" stroke="#12385c" stroke-width="0.7" fill="none"/>
<path d="M423.1 198.4V202.4M421.8 198.4H424.40000000000003" stroke="#a0102e" stroke-width="0.7" fill="none"/>
<path d="M436 198.2V203M434.7 198.2H437.3" stroke="#12385c" stroke-width="0.7" fill="none"/>
<path d="M443.9 181.6V190.8M442.59999999999997 181.6H445.2" stroke="#a0102e" stroke-width="0.7" fill="none"/>
<path d="M456.4 191.6V196M455.09999999999997 191.6H457.7" stroke="#12385c" stroke-width="0.7" fill="none"/>
<path d="M464.6 170V174.6M463.3 170H465.90000000000003" stroke="#a0102e" stroke-width="0.7" fill="none"/>
<path d="M415.4 213V185H423.2V194" stroke="#2a2a2a" stroke-width="0.42" fill="none"/>
<text x="419.44999999999993" y="184.6" font-size="6.4" text-anchor="middle" fill="#111" letter-spacing="0.3">***</text>
<path d="M435.8 192.6V172.3H443.8V173.4" stroke="#2a2a2a" stroke-width="0.42" fill="none"/>
<text x="439.95" y="171.9" font-size="6.4" text-anchor="middle" fill="#111" letter-spacing="0.3">**</text>
<path d="M456.4 185.6V157.8H464V164.6" stroke="#2a2a2a" stroke-width="0.42" fill="none"/>
<text x="460.34999999999997" y="157.4" font-size="6.4" text-anchor="middle" fill="#111" letter-spacing="0.3">****</text>
<circle cx="414.2" cy="215" r="1.25" fill="#0a0a0a"/>
<circle cx="416.6" cy="217.6" r="1.25" fill="#0a0a0a"/>
<circle cx="422.8" cy="196" r="1.25" fill="#0a0a0a"/>
<circle cx="422.4" cy="202" r="1.25" fill="#0a0a0a"/>
<circle cx="423.4" cy="205.6" r="1.25" fill="#0a0a0a" opacity="0.6"/>
<circle cx="435.8" cy="194" r="1.25" fill="#0a0a0a"/>
<circle cx="436" cy="202.4" r="1.25" fill="#0a0a0a"/>
<circle cx="436" cy="206" r="1.25" fill="#0a0a0a" opacity="0.6"/>
<circle cx="443.8" cy="174.8" r="1.25" fill="#0a0a0a"/>
<circle cx="443.8" cy="190.4" r="1.25" fill="#0a0a0a"/>
<circle cx="443.6" cy="198" r="1.25" fill="#0a0a0a" opacity="0.6"/>
<circle cx="456.4" cy="187.2" r="1.25" fill="#0a0a0a"/>
<circle cx="456.4" cy="196" r="1.25" fill="#0a0a0a"/>
<circle cx="456.4" cy="200" r="1.25" fill="#0a0a0a" opacity="0.6"/>
<circle cx="464" cy="165.8" r="1.25" fill="#0a0a0a"/>
<circle cx="464" cy="169.2" r="1.25" fill="#0a0a0a"/>
<circle cx="464.2" cy="181" r="1.25" fill="#0a0a0a" opacity="0.6"/>
<path d="M389.1 150.4V223.0H467.9" stroke="#1a1a1a" stroke-width="1" fill="none"/>
<rect x="385.5" y="222.6" width="3.6" height="0.8" fill="#1a1a1a"/>
<text x="383.1" y="225.25" font-size="6.3" text-anchor="end" fill="#1a1a1a">0.0</text>
<rect x="385.5" y="199.5" width="3.6" height="0.8" fill="#1a1a1a"/>
<text x="383.1" y="202.15" font-size="6.3" text-anchor="end" fill="#1a1a1a">0.1</text>
<rect x="385.5" y="176.4" width="3.6" height="0.8" fill="#1a1a1a"/>
<text x="383.1" y="179.05" font-size="6.3" text-anchor="end" fill="#1a1a1a">0.2</text>
<rect x="385.5" y="153.29999999999998" width="3.6" height="0.8" fill="#1a1a1a"/>
<text x="383.1" y="155.95" font-size="6.3" text-anchor="end" fill="#1a1a1a">0.3</text>
<rect x="397.8" y="223.0" width="0.8" height="2.8" fill="#1a1a1a"/>
<text x="401.2" y="232.8" font-size="6.2" text-anchor="end" transform="rotate(-45 401.2 232.8)" fill="#1a1a1a">0</text>
<rect x="418.20000000000005" y="223.0" width="0.8" height="2.8" fill="#1a1a1a"/>
<text x="421.6" y="232.8" font-size="6.2" text-anchor="end" transform="rotate(-45 421.6 232.8)" fill="#1a1a1a">1.25</text>
<rect x="438.70000000000005" y="223.0" width="0.8" height="2.8" fill="#1a1a1a"/>
<text x="442.1" y="232.8" font-size="6.2" text-anchor="end" transform="rotate(-45 442.1 232.8)" fill="#1a1a1a">2.5</text>
<rect x="459.20000000000005" y="223.0" width="0.8" height="2.8" fill="#1a1a1a"/>
<text x="462.6" y="232.8" font-size="6.2" text-anchor="end" transform="rotate(-45 462.6 232.8)" fill="#1a1a1a">5</text>
<text x="365.4" y="218.8" font-size="7" transform="rotate(-90 365.4 218.8)" textLength="62" lengthAdjust="spacingAndGlyphs" fill="#1a1a1a" style="stroke-width:.32px">pPLC<tspan font-size="4.2" dy="1.2">γ</tspan><tspan dy="-1.2">(Y1217)/total PLC</tspan><tspan font-size="4.2" dy="1.2">γ</tspan></text>
<rect x="392.20" y="221.80" width="5.00" height="1.8" rx="0.9" fill="#0a0a0a"/>
<rect x="399.80" y="221.80" width="5.00" height="1.8" rx="0.9" fill="#0a0a0a"/>
</g>
<path d="M0.5 250V0.5H520" stroke="#5a5a5a" stroke-width="1" fill="none"/>
<path d="M519.5 0V249.5H0" stroke="#505050" stroke-width="1" fill="none"/>
</svg>
</body></html>
